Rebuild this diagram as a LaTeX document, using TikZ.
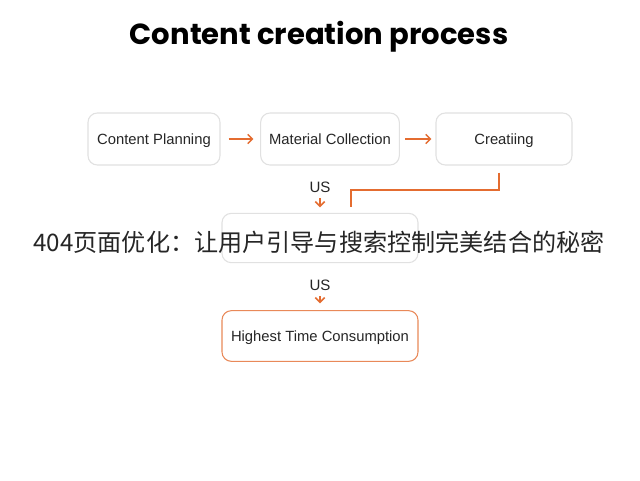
\documentclass[tikz,border=0pt]{standalone}
\usepackage{fontspec}
\setmainfont{Liberation Sans}
\newfontfamily\titlefont{Poppins}
\newfontfamily\cjkfont{Noto Sans CJK SC}
\usetikzlibrary{positioning,arrows.meta}
\definecolor{flowarrow}{RGB}{228,108,48}
\definecolor{boxline}{RGB}{225,225,225}
\tikzset{
  stepbox/.style={draw=boxline,line width=0.8pt,rounded corners=7pt,fill=white,
    minimum height=39pt,inner sep=2pt,text depth=0pt,font=\fontsize{11.1}{13}\selectfont,text=black!85},
  flow/.style={draw=flowarrow,line width=1.1pt,-{Straight Barb[length=3.5pt,width=7pt]}},
  usnote/.style={font=\fontsize{11.3}{13}\selectfont,text=black!85}
}
\begin{document}
\begin{tikzpicture}[x=0.75pt,y=-0.75pt]
  \useasboundingbox[fill=white] (0,0) rectangle (640,480);
  \node[font=\titlefont\bfseries\fontsize{21.8}{24}\selectfont] (title) at (319,37) {Content creation process};
  % first row
  \node[stepbox,minimum width=99pt] (plan) at (154,139) {Content Planning};
  \node[stepbox,minimum width=104pt] (collect) at (330,139) {Material Collection};
  \node[stepbox,minimum width=102pt] (create) at (504,139) {Creatiing};
  \draw[flow,shorten <=6pt,shorten >=5pt] (plan) -- (collect);
  \draw[flow,shorten <=4pt,shorten >=3pt] (collect) -- (create);
  % middle and last step
  \node[stepbox,minimum width=147pt,minimum height=37pt] (middle) at (320,238) {};
  \node[stepbox,draw=flowarrow!80,minimum width=147pt,minimum height=38pt] (highest) at (320,336) {Highest Time Consumption};
  \coordinate (bend) at (351,207);
  \draw[draw=flowarrow,line width=1.1pt] (create.south -| 499,0) ++(0,7) |- (351,190) -- (bend);
  \node[usnote] (us1) at (320,187) {US};
  \node[usnote] (us2) at (320,285) {US};
  \draw[flow,line width=1.3pt,shorten <=1pt,shorten >=4pt] (us1) -- (middle);
  \draw[flow,line width=1.3pt,shorten <=1pt,shorten >=5pt] (us2) -- (highest);
  % overlay line
  \node[font=\cjkfont\fontsize{18.1}{21}\selectfont,text=black!85] (banner) at (319,242) {404页面优化：让用户引导与搜索控制完美结合的秘密};
\end{tikzpicture}
\end{document}
